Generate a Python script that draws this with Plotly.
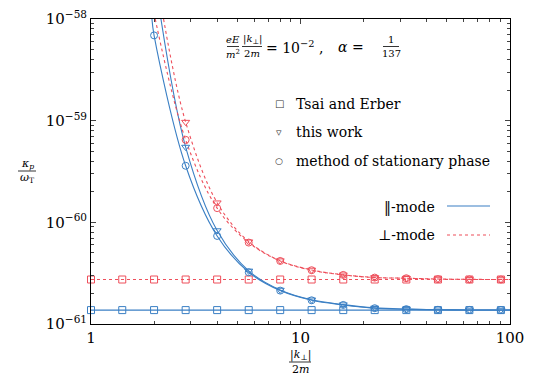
import plotly.graph_objects as go

# x positions of the markers (|k_perp| / 2m)
x_pts = [1, 1.41, 2, 2.83, 4, 5.66, 8, 11.3, 16, 22.6, 32, 45.3, 64, 90.5]

# Tsai and Erber (constant)
tsai_par = [1.37e-61] * 14
tsai_perp = [2.74e-61] * 14

# this work (from x = 2.83)
work_par = [5.50e-60, 8.30e-61, 3.33e-61, 2.16e-61, 1.73e-61, 1.55e-61, 1.44e-61, 1.40e-61, 1.38e-61, 1.375e-61, 1.372e-61]
work_perp = [9.68e-60, 1.56e-60, 6.45e-61, 4.20e-61, 3.40e-61, 3.05e-61, 2.87e-61, 2.82e-61, 2.77e-61, 2.75e-61, 2.74e-61]

# method of stationary phase (parallel from x = 2, perpendicular from x = 2.83)
stat_par = [6.90e-59, 3.60e-60, 7.35e-61, 3.23e-61, 2.13e-61, 1.71e-61, 1.54e-61, 1.43e-61, 1.40e-61, 1.38e-61, 1.375e-61, 1.372e-61]
stat_perp = [6.48e-60, 1.38e-60, 6.32e-61, 4.17e-61, 3.38e-61, 3.04e-61, 2.86e-61, 2.82e-61, 2.76e-61, 2.745e-61, 2.74e-61]

# where each curve leaves the top of the frame, and its value at the right edge
top_x = {"work_par": 2.157, "work_perp": 2.22, "stat_par": 1.954, "stat_perp": 2.026}
right_x = 100

BLUE = "#3a7fc4"
RED = "#ee4f5b"

W, H = 540, 378
L, R, T, B = 91, 30, 19, 54


def px(x):
    return (x - L) / (W - L - R)


def py(y):
    return (H - B - y) / (H - T - B)


fig = go.Figure()


def curve(xs, ys, x0, color, dash):
    lx = [x0] + xs + [right_x]
    ly = [1e-58] + ys + [ys[-1]]
    fig.add_trace(go.Scatter(x=lx, y=ly, mode="lines", hoverinfo="skip",
                             line=dict(color=color, width=1.1, dash=dash, shape="spline")))


def marks(xs, ys, color, symbol):
    fig.add_trace(go.Scatter(x=xs, y=ys, mode="markers", cliponaxis=False,
                             marker=dict(symbol=symbol, size=7, color=color, line=dict(color=color, width=1))))


# horizontal Tsai-Erber lines
fig.add_trace(go.Scatter(x=[1] + x_pts + [right_x], y=[tsai_par[0]] + tsai_par + [tsai_par[-1]], mode="lines",
                         hoverinfo="skip", line=dict(color=BLUE, width=1.1)))
fig.add_trace(go.Scatter(x=[1] + x_pts + [right_x], y=[tsai_perp[0]] + tsai_perp + [tsai_perp[-1]], mode="lines",
                         hoverinfo="skip", line=dict(color=RED, width=1.1, dash="dot")))

curve(x_pts[3:], work_par, top_x["work_par"], BLUE, "solid")
curve(x_pts[2:], stat_par, top_x["stat_par"], BLUE, "solid")
curve(x_pts[3:], work_perp, top_x["work_perp"], RED, "dot")
curve(x_pts[3:], stat_perp, top_x["stat_perp"], RED, "dot")

marks(x_pts, tsai_par, BLUE, "square-open")
marks(x_pts, tsai_perp, RED, "square-open")
marks(x_pts[3:], work_par, BLUE, "triangle-down-open")
marks(x_pts[3:], work_perp, RED, "triangle-down-open")
marks(x_pts[2:], stat_par, BLUE, "circle-open")
marks(x_pts[3:], stat_perp, RED, "circle-open")

FONT = "DejaVu Serif, Liberation Serif, Noto Serif, serif"

ytv = [1e-58, 1e-59, 1e-60, 1e-61]
ytt = ["10<sup>−58</sup>", "10<sup>−59</sup>", "10<sup>−60</sup>", "10<sup>−61</sup>"]
yminor = [k * 10.0 ** d for d in (-61, -60, -59) for k in range(2, 10)]
xminor = [k * 10.0 ** d for d in (0, 1) for k in range(2, 10)]

fig.update_layout(
    width=W, height=H, showlegend=False,
    margin=dict(l=L, r=R, t=T, b=B),
    plot_bgcolor="white", paper_bgcolor="white",
    font=dict(family=FONT, size=15, color="black"),
    xaxis=dict(type="log", range=[0, 2], tickvals=[1, 10, 100], ticktext=["1", "10", "100"],
               ticks="inside", ticklen=5, showline=True, linecolor="black", linewidth=1,
               mirror="allticks", showgrid=False, zeroline=False, automargin=False,
               minor=dict(tickvals=xminor, ticks="inside", ticklen=3, showgrid=False)),
    yaxis=dict(type="log", range=[-61, -58], tickvals=ytv, ticktext=ytt,
               ticks="inside", ticklen=5, showline=True, linecolor="black", linewidth=1,
               mirror="allticks", showgrid=False, zeroline=False, automargin=False,
               minor=dict(tickvals=yminor, ticks="inside", ticklen=3, showgrid=False)),
)

ann = []
shapes = []


def text(x, y, s, size=14, xanchor="center", color="black"):
    ann.append(dict(x=px(x), y=py(y), xref="paper", yref="paper", text=s, showarrow=False,
                    font=dict(size=size, family=FONT, color=color), xanchor=xanchor, yanchor="middle"))


def frac(xc, ybar, num, den, half, size=10, gap=7):
    text(xc, ybar - gap, num, size)
    text(xc, ybar + gap, den, size)
    shapes.append(dict(type="line", xref="paper", yref="paper", x0=px(xc - half), x1=px(xc + half),
                       y0=py(ybar), y1=py(ybar), line=dict(color="black", width=0.8)))


# header equation
frac(233, 46.5, "<i>eE</i>", "<i>m</i><sup>2</sup>", 6)
frac(252, 46.5, "|<i>k</i><sub>⊥</sub>|", "2<i>m</i>", 10)
text(264, 47, "= 10<sup>−2</sup> ,", 14, "left")
text(336, 47, "<i>α</i> =", 14, "left")
frac(391, 46.5, "1", "137", 8)

# legend for symbols
text(279, 104, "□", 10, color="#333333")
text(279, 132, "▿", 11, color="#333333")
text(279, 161, "○", 9, color="#333333")
text(294, 104, "Tsai and Erber", 14, "left")
text(294, 132, "this work", 14, "left")
text(294, 161, "method of stationary phase", 14, "left")

# legend for modes
text(437, 207, "‖-mode", 14, "right")
text(437, 235, "⊥-mode", 14, "right")
shapes.append(dict(type="line", xref="paper", yref="paper", x0=px(447), x1=px(490), y0=py(206), y1=py(206),
                   line=dict(color=BLUE, width=1.1)))
shapes.append(dict(type="line", xref="paper", yref="paper", x0=px(447), x1=px(490), y0=py(235), y1=py(235),
                   line=dict(color=RED, width=1.1, dash="dot")))

# axis titles
frac(27, 171, "<i>κ<sub>p</sub></i>", "<i>ω</i><sub>T</sub>", 9, 11)
frac(300, 362, "|<i>k</i><sub>⊥</sub>|", "2<i>m</i>", 11, 11)

fig.update_layout(annotations=ann, shapes=shapes)

fig.write_html("out.html", config={"displayModeBar": False},
               post_script="document.body.style.margin='0px';")
